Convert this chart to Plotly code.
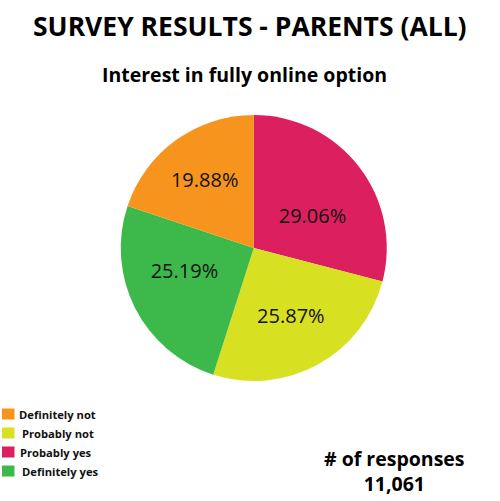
import plotly.graph_objects as go

labels = ["Probably yes", "Probably not", "Definitely yes", "Definitely not"]
values = [29.06, 25.87, 25.19, 19.88]
colors = ["#DC1F5E", "#D7E021", "#3DB94B", "#F7941E"]
texts = ["29.06%", "25.87%", "25.19%", "19.88%"]
legend_labels = ["Definitely not", "Probably not", "Probably yes", "Definitely yes"]
legend_colors = ["#F7941E", "#D7E021", "#DC1F5E", "#3DB94B"]
title = "SURVEY RESULTS - PARENTS (ALL)"
subtitle = "Interest in fully online option"
responses = "# of responses<br>11,061"
FONT = "Open Sans"

# blank lines nudge the library-placed slice labels to where the reference has them
pie_text = ["&nbsp;<br>" + texts[0], texts[1], texts[2] + "<br>&nbsp;", texts[3]]

fig = go.Figure(go.Pie(
    labels=labels, values=values, marker=dict(colors=colors), sort=False,
    direction="clockwise", rotation=0, text=pie_text, textinfo="text",
    textposition="inside", insidetextorientation="horizontal",
    textfont=dict(size=20, color="#111111", family=FONT),
    domain=dict(x=[120.5/500, 387/500], y=[1-381/501, 1-115/501]),
    showlegend=False,
))
ann = [
    dict(text=f"<b>{title}</b>", x=250, y=26, size=26.5),
    dict(text=f"<b>{subtitle}</b>", x=244, y=74, size=19.5),
    dict(text=f"<b>{responses}</b>", x=394, y=471, size=19.5),
]
annotations = [dict(text=a["text"], x=a["x"]/500, y=1-a["y"]/501, xref="paper", yref="paper",
                    showarrow=False, xanchor="center", yanchor="middle",
                    font=dict(size=a["size"], color="#000000", family=FONT)) for a in ann]
shapes = []
ys = [414, 433, 452, 471]
xs = [17, 20, 18, 20]
for lab, col, y, x in zip(legend_labels, legend_colors, ys, xs):
    shapes.append(dict(type="rect", xref="paper", yref="paper", x0=2/500, x1=14.5/500,
                       y0=1-(y+5.5)/501, y1=1-(y-5.5)/501, fillcolor=col, line_width=0))
    annotations.append(dict(text=f"<b>{lab}</b>", x=x/500, y=1-y/501, xref="paper", yref="paper",
                            showarrow=False, xanchor="left", yanchor="middle",
                            font=dict(size=11.2, color="#111111", family=FONT)))
fig.update_layout(width=500, height=501, margin=dict(l=0, r=0, t=0, b=0),
                  paper_bgcolor="white", annotations=annotations, shapes=shapes)
fig.write_html("out.html", config=dict(displayModeBar=False),
               post_script="document.body.style.margin='0';document.body.style.overflow='hidden';")
